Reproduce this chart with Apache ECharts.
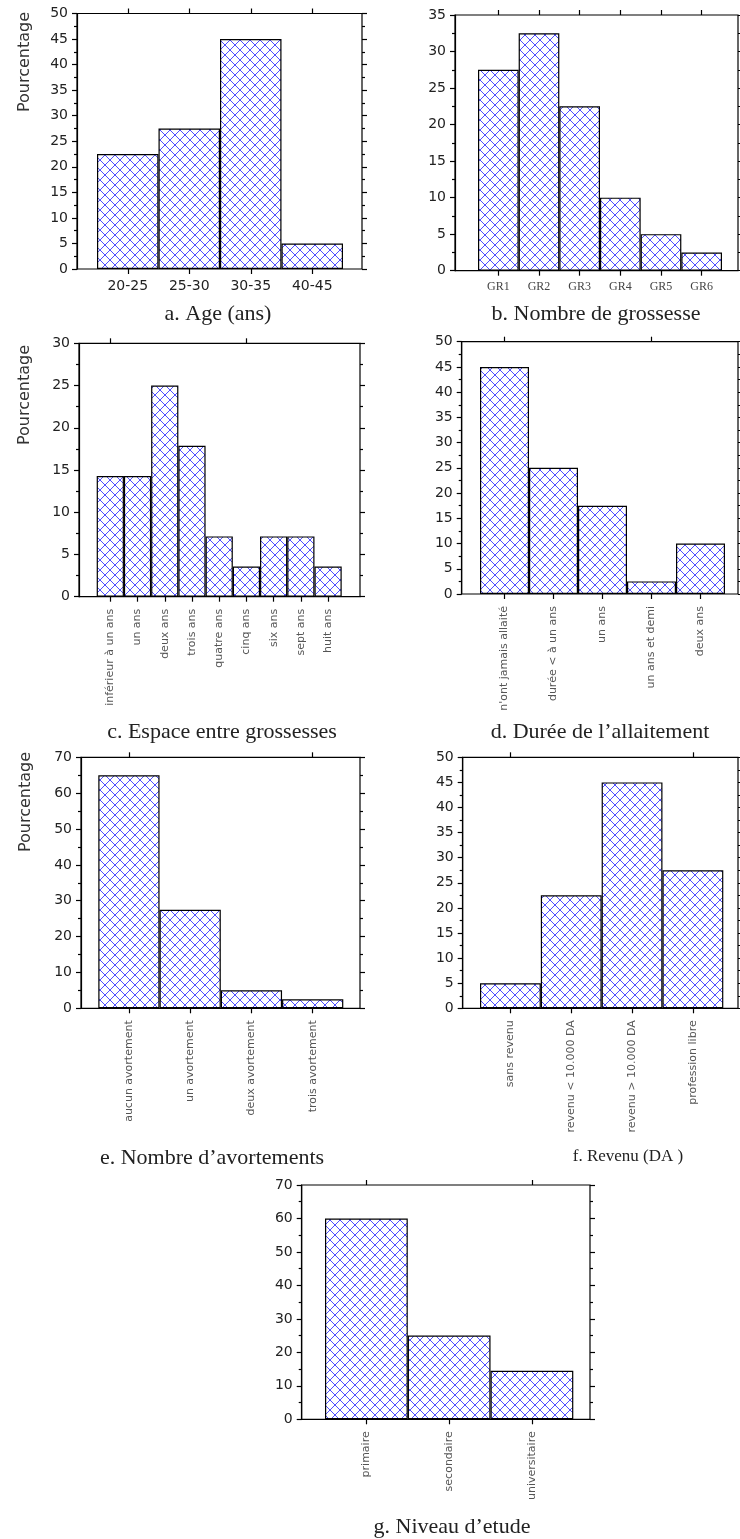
<!DOCTYPE html>
<html><head><meta charset="utf-8">
<script src="https://cdn.jsdelivr.net/npm/echarts@6/dist/echarts.min.js"></script>
<style>html,body{margin:0;padding:0;background:#fff}#c{width:740px;height:1539px}</style>
</head><body><div id="c"></div>
<script>
// ---- data ----
const catA = ['20-25','25-30','30-35','40-45'];
const valA = [22.5, 27.5, 45, 5];
const catB = ['GR1','GR2','GR3','GR4','GR5','GR6'];
const valB = [27.5, 32.5, 22.5, 10, 5, 2.5];
const catC = ['inférieur à un ans','un ans','deux ans','trois ans','quatre ans','cinq ans','six ans','sept ans','huit ans'];
const valC = [14.29, 14.29, 25, 17.86, 7.14, 3.57, 7.14, 7.14, 3.57];
const catD = ["n'ont jamais allaité",'durée < à un ans','un ans','un ans et demi','deux ans'];
const valD = [45, 25, 17.5, 2.5, 10];
const catE = ['aucun avortement','un avortement','deux avortement','trois avortement'];
const valE = [65, 27.5, 5, 2.5];
const catF = ['sans revenu','revenu < 10.000 DA','revenu > 10.000 DA','profession libre'];
const valF = [5, 22.5, 45, 27.5];
const catG = ['primaire','secondaire','universitaire'];
const valG = [60, 25, 14.5];
const yMax = [50, 35, 30, 50, 70, 50, 70];
const yStep = [5, 5, 5, 5, 10, 5, 10];
const titles = ['a. Age (ans)','b. Nombre de grossesse','c. Espace entre grossesses',"d. Durée de l’allaitement","e. Nombre d’avortements",'f. Revenu (DA )',"g. Niveau d’etude"];
const yTitle = 'Pourcentage';

const cats = [catA, catB, catC, catD, catE, catF, catG];
const vals = [valA, valB, valC, valD, valE, valF, valG];

// ---- layout ----
const layouts = [
  {frame:[77,13.5,362,269], bars:[97,343], kind:'num', t:[218,314,22], yl:[25,62]},
  {frame:[455,15,738,270.7], bars:[478,722], kind:'serif', t:[596,314,22]},
  {frame:[79,343.3,360,596.7], bars:[96.7,341.7], kind:'rot', t:[222,732,22], yl:[25,395]},
  {frame:[461.7,341.7,738,594], bars:[480,725], kind:'rot', t:[600,732,22]},
  {frame:[81,757.3,360,1008.3], bars:[98.3,343.3], kind:'rot', t:[212,1158,22], yl:[26,802]},
  {frame:[462.7,757.3,738,1008.3], bars:[480,723.3], kind:'rot', t:[628,1157,17]},
  {frame:[301.7,1185,590,1419.3], bars:[325,573.3], kind:'rot', t:[452,1527,22]}
];

// crosshatch pattern
const pc = document.createElement('canvas');
pc.width = 10; pc.height = 10;
const g2 = pc.getContext('2d');
g2.fillStyle = '#fff'; g2.fillRect(0,0,10,10);
g2.strokeStyle = '#5050ff'; g2.lineWidth = 1;
g2.beginPath(); g2.moveTo(0,0); g2.lineTo(10,10); g2.moveTo(10,0); g2.lineTo(0,10); g2.stroke();
const pattern = {image: pc, repeat: 'repeat'};

const black = {color:'#000', width:1.2};
const grid=[], xAxis=[], yAxis=[], series=[], graphic=[];

layouts.forEach((L,i)=>{
  const [fx0,fy0,fx1,fy1] = L.frame;
  const gO = grid.length;
  grid.push({left:fx0, top:fy0, width:fx1-fx0, height:fy1-fy0, show:true, borderColor:'#000', borderWidth:1.2, backgroundColor:'transparent'});
  grid.push({left:L.bars[0], top:fy0, width:L.bars[1]-L.bars[0], height:fy1-fy0});
  xAxis.push({gridIndex:gO, type:'value', show:false, min:0, max:1});
  let lab;
  if (L.kind==='num') lab = {fontSize:14, fontFamily:'DejaVu Sans', color:'#222', margin:10, interval:0};
  else if (L.kind==='serif') lab = {fontSize:12, fontFamily:'Liberation Serif', color:'#444', margin:10, interval:0};
  else lab = {fontSize:11, fontFamily:'DejaVu Sans', color:'#555', margin:12, rotate:90, interval:0};
  const xb = xAxis.length;
  xAxis.push({gridIndex:gO+1, type:'category', data:cats[i], position:'bottom', boundaryGap:true,
    axisLine:{show:false}, axisTick:{show:true, alignWithLabel:true, length:5, lineStyle:black}, axisLabel:lab});
  xAxis.push({gridIndex:gO+1, type:'category', data:cats[i], position:'top', boundaryGap:true,
    axisLine:{show:false}, axisTick:{show:true, alignWithLabel:true, length:5, lineStyle:black}, axisLabel:{show:false}});
  yAxis.push({gridIndex:gO, type:'value', min:0, max:yMax[i], interval:yStep[i], position:'left',
    axisLine:{show:true, lineStyle:black}, axisTick:{show:true, length:5, lineStyle:black},
    minorTick:{show:true, splitNumber:2, length:3, lineStyle:black}, splitLine:{show:false},
    axisLabel:{fontSize:14, fontFamily:'DejaVu Sans', color:'#222', margin:9}});
  yAxis.push({gridIndex:gO, type:'value', min:0, max:yMax[i], interval:yStep[i], position:'right',
    axisLine:{show:false}, axisTick:{show:true, length:5, lineStyle:black},
    minorTick:{show:true, splitNumber:2, length:3, lineStyle:black}, splitLine:{show:false}, axisLabel:{show:false}});
  const yi = yAxis.length;
  yAxis.push({gridIndex:gO+1, type:'value', min:0, max:yMax[i], show:false});
  series.push({type:'bar', xAxisIndex:xb, yAxisIndex:yi, data:vals[i], barWidth:'100%', barCategoryGap:'0%', silent:true,
    itemStyle:{color:pattern, borderColor:'#000', borderWidth:1.2}});
  graphic.push({type:'text', x:L.t[0], y:L.t[1], style:{text:titles[i], font:L.t[2]+'px "Liberation Serif"', fill:'#222',
    textAlign:'center', textVerticalAlign:'middle', align:'center', verticalAlign:'middle'}});
  if (L.yl) graphic.push({type:'text', x:L.yl[0], y:L.yl[1], rotation:Math.PI/2, style:{text:yTitle, font:'16px "DejaVu Sans"', fill:'#333',
    textAlign:'center', textVerticalAlign:'middle', align:'center', verticalAlign:'middle'}});
});

const chart = echarts.init(document.getElementById('c'), null, {renderer:'canvas'});
chart.setOption({backgroundColor:'#fff', animation:false, grid, xAxis, yAxis, series, graphic});
</script></body></html>
